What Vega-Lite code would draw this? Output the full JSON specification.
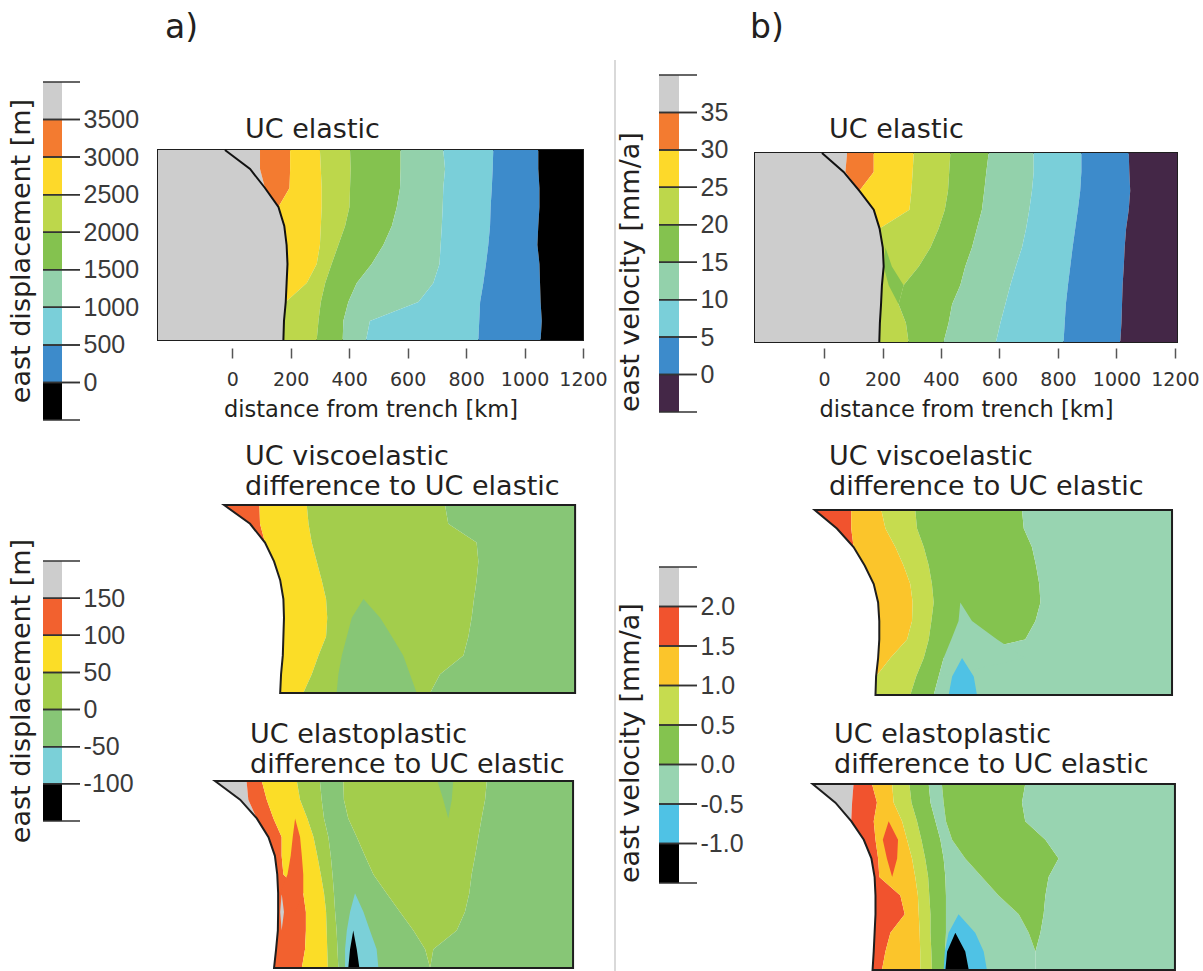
{
"$schema":"https://vega.github.io/schema/vega-lite/v6.json",
"padding":{"left":8,"top":12,"right":0,"bottom":0},
"background":"white",
"config":{"view":{"stroke":null},"legend":{"disable":true},"axis":{"grid":false},
"title":{"font":"DejaVu Sans","fontWeight":"normal","color":"#231f20","fontSize":27,"anchor":"start","frame":"group","lineHeight":30}},
"datasets":{
"A1":[
{"y":100,"c":-25,"g":95,"o":198,"yl":300,"lg":403,"gr":576,"tl":722,"cy":893,"bl":1047},
{"y":90,"c":61,"g":95,"o":198,"yl":303,"lg":405,"gr":576,"tl":728,"cy":891,"bl":1047},
{"y":80,"c":112,"g":112,"o":196,"yl":306,"lg":403,"gr":574,"tl":722,"cy":888,"bl":1051},
{"y":70,"c":158,"g":158,"o":158,"yl":306,"lg":401,"gr":563,"tl":720,"cy":884,"bl":1051},
{"y":60,"c":178,"g":178,"o":178,"yl":303,"lg":386,"gr":546,"tl":717,"cy":882,"bl":1047},
{"y":50,"c":186,"g":186,"o":186,"yl":300,"lg":363,"gr":517,"tl":713,"cy":876,"bl":1044},
{"y":40,"c":189,"g":189,"o":189,"yl":289,"lg":340,"gr":477,"tl":709,"cy":868,"bl":1051},
{"y":30,"c":186,"g":186,"o":186,"yl":255,"lg":318,"gr":426,"tl":688,"cy":859,"bl":1053},
{"y":20,"c":183,"g":183,"o":183,"yl":183,"lg":303,"gr":397,"tl":637,"cy":848,"bl":1055},
{"y":10,"c":177,"g":177,"o":177,"yl":177,"lg":295,"gr":380,"tl":471,"cy":845,"bl":1059},
{"y":0,"c":175,"g":175,"o":175,"yl":175,"lg":289,"gr":378,"tl":458,"cy":842,"bl":1055}
],
"B1":[
{"y":100,"c":-7,"g":79,"o":170,"yl":307,"lg":432,"gr":563,"tl":717,"cy":880,"bl":1042,"a1":210,"a2":210},
{"y":90,"c":67,"g":73,"o":170,"yl":303,"lg":428,"gr":555,"tl":717,"cy":880,"bl":1044,"a1":210,"a2":210},
{"y":80,"c":121,"g":121,"o":121,"yl":299,"lg":424,"gr":548,"tl":711,"cy":876,"bl":1047,"a1":210,"a2":210},
{"y":70,"c":170,"g":170,"o":170,"yl":292,"lg":413,"gr":540,"tl":702,"cy":868,"bl":1042,"a1":210,"a2":210},
{"y":60,"c":190,"g":190,"o":190,"yl":190,"lg":392,"gr":523,"tl":691,"cy":859,"bl":1033,"a1":210,"a2":210},
{"y":50,"c":201,"g":201,"o":201,"yl":201,"lg":364,"gr":506,"tl":677,"cy":850,"bl":1028,"a1":210,"a2":210},
{"y":40,"c":204,"g":204,"o":204,"yl":204,"lg":324,"gr":483,"tl":656,"cy":842,"bl":1025,"a1":204,"a2":232},
{"y":30,"c":198,"g":198,"o":198,"yl":198,"lg":272,"gr":466,"tl":637,"cy":834,"bl":1021,"a1":221,"a2":272},
{"y":20,"c":195,"g":195,"o":195,"yl":195,"lg":255,"gr":438,"tl":620,"cy":827,"bl":1019,"a1":255,"a2":255},
{"y":10,"c":191,"g":191,"o":191,"yl":191,"lg":280,"gr":426,"tl":603,"cy":823,"bl":1017,"a1":280,"a2":280},
{"y":0,"c":189,"g":189,"o":189,"yl":189,"lg":289,"gr":409,"tl":588,"cy":819,"bl":1013,"a1":289,"a2":289}
],
"A2":[
{"y":100,"m":-28,"r":93,"yl":255,"yg":728,"t1":449,"t2":449},
{"y":90,"m":61,"r":95,"yl":261,"yg":739,"t1":449,"t2":449},
{"y":80,"m":112,"r":112,"yl":272,"yg":836,"t1":449,"t2":449},
{"y":70,"m":143,"r":143,"yl":289,"yg":842,"t1":449,"t2":449},
{"y":60,"m":164,"r":164,"yl":306,"yg":836,"t1":449,"t2":449},
{"y":50,"m":175,"r":175,"yl":321,"yg":827,"t1":449,"t2":449},
{"y":40,"m":177,"r":177,"yl":325,"yg":819,"t1":409,"t2":506},
{"y":30,"m":175,"r":175,"yl":321,"yg":808,"t1":392,"t2":546},
{"y":20,"m":173,"r":173,"yl":295,"yg":791,"t1":375,"t2":585},
{"y":10,"m":167,"r":167,"yl":272,"yg":711,"t1":363,"t2":608},
{"y":0,"m":164,"r":164,"yl":243,"yg":677,"t1":357,"t2":631}
],
"A3":[
{"y":100,"m":-59,"g":49,"r":101,"yl":221,"ys":300,"gs":380,"yr":871,"n1":702,"n2":756,"q1":420,"q2":420,"k1":414,"k2":414,"s1":169,"s2":169,"f1":215,"f2":215},
{"y":90,"m":27,"g":55,"r":118,"yl":232,"ys":306,"gs":382,"yr":865,"n1":722,"n2":751,"q1":420,"q2":420,"k1":414,"k2":414,"s1":169,"s2":169,"f1":215,"f2":215},
{"y":80,"m":84,"g":84,"r":141,"yl":257,"ys":314,"gs":397,"yr":853,"n1":739,"n2":739,"q1":420,"q2":420,"k1":414,"k2":414,"s1":169,"s2":169,"f1":215,"f2":215},
{"y":70,"m":124,"g":124,"r":169,"yl":278,"ys":329,"gs":426,"yr":842,"n1":739,"n2":739,"q1":420,"q2":420,"k1":414,"k2":414,"s1":169,"s2":169,"f1":207,"f2":232},
{"y":60,"m":146,"g":146,"r":169,"yl":291,"ys":337,"gs":454,"yr":831,"n1":739,"n2":739,"q1":420,"q2":420,"k1":414,"k2":414,"s1":169,"s2":169,"f1":200,"f2":238},
{"y":50,"m":154,"g":154,"r":175,"yl":303,"ys":343,"gs":483,"yr":819,"n1":739,"n2":739,"q1":420,"q2":420,"k1":414,"k2":414,"s1":169,"s2":169,"f1":189,"f2":243},
{"y":40,"m":157,"g":157,"r":243,"yl":314,"ys":348,"gs":528,"yr":811,"n1":739,"n2":739,"q1":420,"q2":420,"k1":414,"k2":414,"s1":169,"s2":169,"f1":164,"f2":243},
{"y":30,"m":157,"g":157,"r":252,"yl":321,"ys":352,"gs":574,"yr":796,"n1":739,"n2":739,"q1":403,"q2":449,"k1":414,"k2":414,"s1":164,"s2":177,"f1":215,"f2":215},
{"y":20,"m":156,"g":156,"r":252,"yl":323,"ys":357,"gs":620,"yr":768,"n1":739,"n2":739,"q1":392,"q2":471,"k1":414,"k2":414,"s1":169,"s2":169,"f1":215,"f2":215},
{"y":10,"m":150,"g":150,"r":249,"yl":325,"ys":360,"gs":660,"yr":688,"n1":739,"n2":739,"q1":386,"q2":494,"k1":403,"k2":426,"s1":169,"s2":169,"f1":215,"f2":215},
{"y":0,"m":143,"g":143,"r":238,"yl":327,"ys":363,"gs":677,"yr":677,"n1":739,"n2":739,"q1":386,"q2":500,"k1":397,"k2":435,"s1":169,"s2":169,"f1":215,"f2":215}
],
"B2":[
{"y":100,"m":-32,"r":93,"o":196,"lg":312,"gr":677,"q1":466,"q2":466,"u1":472,"u2":472},
{"y":90,"m":44,"r":93,"o":210,"lg":318,"gr":683,"q1":466,"q2":466,"u1":472,"u2":472},
{"y":80,"m":101,"r":101,"o":244,"lg":341,"gr":711,"q1":466,"q2":466,"u1":472,"u2":472},
{"y":70,"m":139,"r":139,"o":272,"lg":358,"gr":725,"q1":466,"q2":466,"u1":472,"u2":472},
{"y":60,"m":170,"r":170,"o":295,"lg":369,"gr":736,"q1":466,"q2":466,"u1":472,"u2":472},
{"y":50,"m":185,"r":185,"o":303,"lg":375,"gr":740,"q1":466,"q2":466,"u1":472,"u2":472},
{"y":40,"m":189,"r":189,"o":301,"lg":367,"gr":723,"q1":460,"q2":506,"u1":472,"u2":472},
{"y":30,"m":189,"r":189,"o":284,"lg":358,"gr":688,"q1":435,"q2":592,"u1":472,"u2":472},
{"y":20,"m":185,"r":185,"o":227,"lg":341,"gr":409,"q1":409,"q2":688,"u1":472,"u2":472},
{"y":10,"m":178,"r":178,"o":178,"lg":315,"gr":392,"q1":403,"q2":403,"u1":438,"u2":512},
{"y":0,"m":176,"r":176,"o":176,"lg":295,"gr":375,"q1":403,"q2":403,"u1":426,"u2":523}
],
"B3":[
{"y":100,"m":-39,"g":101,"r":164,"o":233,"lg":292,"gs":358,"ts":403,"bg":688,"p1":233,"p2":233,"u1":460,"u2":460,"k1":449,"k2":449},
{"y":90,"m":39,"g":96,"r":181,"o":238,"lg":299,"gs":364,"ts":409,"bg":677,"p1":233,"p2":233,"u1":460,"u2":460,"k1":449,"k2":449},
{"y":80,"m":93,"g":93,"r":170,"o":267,"lg":318,"gs":381,"ts":417,"bg":688,"p1":221,"p2":221,"u1":460,"u2":460,"k1":449,"k2":449},
{"y":70,"m":136,"g":136,"r":176,"o":284,"lg":333,"gs":398,"ts":438,"bg":757,"p1":201,"p2":253,"u1":460,"u2":460,"k1":449,"k2":449},
{"y":60,"m":162,"g":162,"r":185,"o":301,"lg":346,"gs":409,"ts":483,"bg":802,"p1":215,"p2":250,"u1":460,"u2":460,"k1":449,"k2":449},
{"y":50,"m":173,"g":173,"r":189,"o":312,"lg":356,"gs":415,"ts":540,"bg":768,"p1":233,"p2":233,"u1":460,"u2":460,"k1":449,"k2":449},
{"y":40,"m":176,"g":176,"r":261,"o":321,"lg":360,"gs":417,"ts":597,"bg":757,"p1":233,"p2":233,"u1":460,"u2":460,"k1":449,"k2":449},
{"y":30,"m":176,"g":176,"r":276,"o":324,"lg":364,"gs":417,"ts":666,"bg":751,"p1":233,"p2":233,"u1":460,"u2":460,"k1":449,"k2":449},
{"y":20,"m":173,"g":173,"r":227,"o":327,"lg":364,"gs":417,"ts":700,"bg":740,"p1":233,"p2":233,"u1":426,"u2":517,"k1":449,"k2":449},
{"y":10,"m":170,"g":170,"r":210,"o":329,"lg":367,"gs":415,"ts":723,"bg":723,"p1":233,"p2":233,"u1":413,"u2":546,"k1":421,"k2":483},
{"y":0,"m":166,"g":166,"r":198,"o":329,"lg":369,"gs":413,"ts":723,"bg":723,"p1":233,"p2":233,"u1":409,"u2":557,"k1":415,"k2":495}
]
},
"bounds":"full","spacing":5,
"hconcat":[
{"bounds":"full","spacing":18,"hconcat":[
{"bounds":"flush","spacing":0,"vconcat":[
{"width":1,"height":22,"data":{"values":[]},"mark":"point"},
{"width":37,"height":338,
"title":{"text":"east displacement [m]","orient":"left","anchor":"middle","offset":6},
"data":{"values":[{"b":"a0","lo":-500,"hi":0},{"b":"a1","lo":0,"hi":500},{"b":"a2","lo":500,"hi":1000},{"b":"a3","lo":1000,"hi":1500},{"b":"a4","lo":1500,"hi":2000},{"b":"a5","lo":2000,"hi":2500},{"b":"a6","lo":2500,"hi":3000},{"b":"a7","lo":3000,"hi":3500},{"b":"a8","lo":3500,"hi":4000}]},
"layer":[
{"mark":"rect","encoding":{"x":{"datum":0,"type":"quantitative","scale":{"domain":[0,1]},"axis":null},"x2":{"datum":0.514},
"y":{"field":"lo","type":"quantitative","scale":{"domain":[-500,4000],"nice":false},"axis":{"orient":"right","values":[0,500,1000,1500,2000,2500,3000,3500],"format":"d","ticks":false,"domain":false,"labelFont":"Liberation Sans","labelFontSize":25,"labelColor":"#3a3a3a","labelPadding":3,"title":null}},
"y2":{"field":"hi"},
"color":{"field":"b","type":"nominal","scale":{"domain":["a0","a1","a2","a3","a4","a5","a6","a7","a8","b0","b1","b2","b3","b4","b5","b6","b7","b8","c0","c1","c2","c3","c4","c5","c6","d0","d1","d2","d3","d4","d5","d6","d7"],"range":["#000000","#3d8bcb","#7acfd9","#93d1ab","#84c24f","#bdd74b","#fdd92a","#f37b30","#cdcdcd","#442747","#3d8bcb","#7acfd9","#93d1ab","#84c24f","#bdd74b","#fdd92a","#f37b30","#cdcdcd","#000000","#7bd0d8","#87c676","#a3cd4c","#fbdd27","#f2612f","#cdcdcd","#000000","#4fc2e5","#98d4b1","#84c34f","#c6dc4f","#fbc52b","#f1532e","#cdcdcd"]}}}},
{"mark":{"type":"rule","color":"#333","strokeWidth":1.5},"encoding":{"y":{"field":"lo","type":"quantitative"}}},
{"mark":{"type":"rule","color":"#333","strokeWidth":1.5},"encoding":{"y":{"field":"hi","type":"quantitative"}}}
]},
{"width":1,"height":141,"data":{"values":[]},"mark":"point"},
{"width":37,"height":260,
"title":{"text":"east displacement [m]","orient":"left","anchor":"middle","offset":6},
"data":{"values":[{"b":"c0","lo":-150,"hi":-100},{"b":"c1","lo":-100,"hi":-50},{"b":"c2","lo":-50,"hi":0},{"b":"c3","lo":0,"hi":50},{"b":"c4","lo":50,"hi":100},{"b":"c5","lo":100,"hi":150},{"b":"c6","lo":150,"hi":200}]},
"layer":[
{"mark":"rect","encoding":{"x":{"datum":0,"type":"quantitative","scale":{"domain":[0,1]},"axis":null},"x2":{"datum":0.514},
"y":{"field":"lo","type":"quantitative","scale":{"domain":[-150,200],"nice":false},"axis":{"orient":"right","values":[-100,-50,0,50,100,150],"labelExpr":"datum.value < 0 ? '-' + (-datum.value) : '' + datum.value","ticks":false,"domain":false,"labelFont":"Liberation Sans","labelFontSize":25,"labelColor":"#3a3a3a","labelPadding":3,"title":null}},
"y2":{"field":"hi"},
"color":{"field":"b","type":"nominal","scale":{"domain":["a0","a1","a2","a3","a4","a5","a6","a7","a8","b0","b1","b2","b3","b4","b5","b6","b7","b8","c0","c1","c2","c3","c4","c5","c6","d0","d1","d2","d3","d4","d5","d6","d7"],"range":["#000000","#3d8bcb","#7acfd9","#93d1ab","#84c24f","#bdd74b","#fdd92a","#f37b30","#cdcdcd","#442747","#3d8bcb","#7acfd9","#93d1ab","#84c24f","#bdd74b","#fdd92a","#f37b30","#cdcdcd","#000000","#7bd0d8","#87c676","#a3cd4c","#fbdd27","#f2612f","#cdcdcd","#000000","#4fc2e5","#98d4b1","#84c34f","#c6dc4f","#fbc52b","#f1532e","#cdcdcd"]}}}},
{"mark":{"type":"rule","color":"#333","strokeWidth":1.5},"encoding":{"y":{"field":"lo","type":"quantitative"}}},
{"mark":{"type":"rule","color":"#333","strokeWidth":1.5},"encoding":{"y":{"field":"hi","type":"quantitative"}}}
]}
]},
{"bounds":"flush","spacing":0,"vconcat":[
{"width":1,"height":90,"data":{"values":[]},"mark":"point","title":{"text":"a)","fontSize":33,"dx":7,"offset":15}},
{"width":425,"height":190,"view":{"stroke":"#1e1e1e","strokeWidth":2},
"title":{"text":"UC elastic","dx":87,"offset":2},
"data":{"name":"A1"},
"encoding":{"y":{"field":"y","type":"quantitative","scale":{"domain":[0,100],"nice":false},"axis":null}},
"layer":[
{"mark":{"type":"area","orient":"horizontal"},"encoding":{"x":{"field":"g","type":"quantitative","scale":{"domain":[-254,1200],"nice":false},
"axis":{"values":[0,100,200,300,400,500,600,700,800,900,1000,1100,1200],"format":"d","labelExpr":"datum.value % 200 === 0 ? datum.label : ''","tickSize":{"condition":{"test":"datum.value % 200 === 0","value":10},"value":5},"offset":8,"domain":false,"labelFlush":false,"labelOverlap":false,"tickColor":"#555","tickWidth":1.5,"labelFont":"DejaVu Sans","labelFontSize":19,"labelColor":"#333","labelPadding":12,"title":"distance from trench [km]","titleFont":"DejaVu Sans","titleFontSize":22.5,"titleFontWeight":"normal","titleColor":"#231f20","titlePadding":9}},
"x2":{"datum":-254},"color":{"datum":"a8"}}},
{"mark":{"type":"area","orient":"horizontal"},"encoding":{"x":{"field":"o","type":"quantitative"},"x2":{"field":"g"},"color":{"datum":"a7"}}},
{"mark":{"type":"area","orient":"horizontal"},"encoding":{"x":{"field":"yl","type":"quantitative"},"x2":{"field":"o"},"color":{"datum":"a6"}}},
{"mark":{"type":"area","orient":"horizontal"},"encoding":{"x":{"field":"lg","type":"quantitative"},"x2":{"field":"yl"},"color":{"datum":"a5"}}},
{"mark":{"type":"area","orient":"horizontal"},"encoding":{"x":{"field":"gr","type":"quantitative"},"x2":{"field":"lg"},"color":{"datum":"a4"}}},
{"mark":{"type":"area","orient":"horizontal"},"encoding":{"x":{"field":"tl","type":"quantitative"},"x2":{"field":"gr"},"color":{"datum":"a3"}}},
{"mark":{"type":"area","orient":"horizontal"},"encoding":{"x":{"field":"cy","type":"quantitative"},"x2":{"field":"tl"},"color":{"datum":"a2"}}},
{"mark":{"type":"area","orient":"horizontal"},"encoding":{"x":{"field":"bl","type":"quantitative"},"x2":{"field":"cy"},"color":{"datum":"a1"}}},
{"mark":{"type":"area","orient":"horizontal"},"encoding":{"x":{"field":"bl","type":"quantitative"},"x2":{"datum":1200},"color":{"datum":"a0"}}},
{"mark":{"type":"line","color":"#111","strokeWidth":2},"encoding":{"x":{"field":"c","type":"quantitative"},"order":{"field":"y","type":"quantitative"}}},
{"data":{"values":[{}]},"mark":{"type":"rule","color":"#555","strokeWidth":1.5},"encoding":{"x":{"datum":0},"x2":{"datum":1200},"y":{"datum":-4.2}}}
]},
{"width":1,"height":165,"data":{"values":[]},"mark":"point"},
{"width":425,"height":188,
"title":{"text":["UC viscoelastic","difference to UC elastic"],"dx":87,"offset":0},
"data":{"name":"A2"},
"encoding":{"y":{"field":"y","type":"quantitative","scale":{"domain":[0,100],"nice":false},"axis":null}},
"layer":[
{"mark":{"type":"area","orient":"horizontal"},"encoding":{"x":{"field":"r","type":"quantitative","scale":{"domain":[-254,1200],"nice":false},"axis":null},"x2":{"field":"m"},"color":{"datum":"c5"}}},
{"mark":{"type":"area","orient":"horizontal"},"encoding":{"x":{"field":"yl","type":"quantitative","axis":null},"x2":{"field":"r"},"color":{"datum":"c4"}}},
{"mark":{"type":"area","orient":"horizontal"},"encoding":{"x":{"field":"yg","type":"quantitative","axis":null},"x2":{"field":"yl"},"color":{"datum":"c3"}}},
{"mark":{"type":"area","orient":"horizontal"},"encoding":{"x":{"field":"yg","type":"quantitative","axis":null},"x2":{"datum":1173},"color":{"datum":"c2"}}},
{"mark":{"type":"area","orient":"horizontal"},"encoding":{"x":{"field":"t1","type":"quantitative","axis":null},"x2":{"field":"t2"},"color":{"datum":"c2"}}},
{"mark":{"type":"area","orient":"horizontal","fillOpacity":0,"stroke":"#1e1e1e","strokeWidth":2},"encoding":{"x":{"field":"m","type":"quantitative","axis":null},"x2":{"datum":1173}}}
]},
{"width":1,"height":88,"data":{"values":[]},"mark":"point"},
{"width":425,"height":187,
"title":{"text":["UC elastoplastic","difference to UC elastic"],"dx":92,"offset":-2},
"data":{"name":"A3"},
"encoding":{"y":{"field":"y","type":"quantitative","scale":{"domain":[0,100],"nice":false},"axis":null}},
"layer":[
{"mark":{"type":"area","orient":"horizontal"},"encoding":{"x":{"field":"g","type":"quantitative","scale":{"domain":[-254,1200],"nice":false},"axis":null},"x2":{"field":"m"},"color":{"datum":"c6"}}},
{"mark":{"type":"area","orient":"horizontal"},"encoding":{"x":{"field":"r","type":"quantitative","axis":null},"x2":{"field":"g"},"color":{"datum":"c5"}}},
{"mark":{"type":"area","orient":"horizontal"},"encoding":{"x":{"field":"yl","type":"quantitative","axis":null},"x2":{"field":"r"},"color":{"datum":"c4"}}},
{"mark":{"type":"area","orient":"horizontal"},"encoding":{"x":{"field":"ys","type":"quantitative","axis":null},"x2":{"field":"yl"},"color":{"datum":"c3"}}},
{"mark":{"type":"area","orient":"horizontal"},"encoding":{"x":{"field":"gs","type":"quantitative","axis":null},"x2":{"field":"ys"},"color":{"datum":"c2"}}},
{"mark":{"type":"area","orient":"horizontal"},"encoding":{"x":{"field":"yr","type":"quantitative","axis":null},"x2":{"field":"gs"},"color":{"datum":"c3"}}},
{"mark":{"type":"area","orient":"horizontal"},"encoding":{"x":{"field":"yr","type":"quantitative","axis":null},"x2":{"datum":1166},"color":{"datum":"c2"}}},
{"mark":{"type":"area","orient":"horizontal"},"encoding":{"x":{"field":"n1","type":"quantitative","axis":null},"x2":{"field":"n2"},"color":{"datum":"c2"}}},
{"mark":{"type":"area","orient":"horizontal"},"encoding":{"x":{"field":"q1","type":"quantitative","axis":null},"x2":{"field":"q2"},"color":{"datum":"c1"}}},
{"mark":{"type":"area","orient":"horizontal"},"encoding":{"x":{"field":"k1","type":"quantitative","axis":null},"x2":{"field":"k2"},"color":{"datum":"c0"}}},
{"mark":{"type":"area","orient":"horizontal"},"encoding":{"x":{"field":"s1","type":"quantitative","axis":null},"x2":{"field":"s2"},"color":{"datum":"c6"}}},
{"mark":{"type":"area","orient":"horizontal"},"encoding":{"x":{"field":"f1","type":"quantitative","axis":null},"x2":{"field":"f2"},"color":{"datum":"c5"}}},
{"mark":{"type":"area","orient":"horizontal","fillOpacity":0,"stroke":"#1e1e1e","strokeWidth":2},"encoding":{"x":{"field":"m","type":"quantitative","axis":null},"x2":{"datum":1166}}}
]}
]}
]},
{"bounds":"full","spacing":6,"hconcat":[
{"bounds":"flush","spacing":0,"vconcat":[
{"width":1,"height":15,"data":{"values":[{}]},"mark":{"type":"rule","color":"#b3b3b3","strokeWidth":1},"encoding":{"x":{"datum":-44,"type":"quantitative","scale":{"domain":[0,1]},"axis":null},"y":{"datum":1,"type":"quantitative","scale":{"domain":[0,1]},"axis":null},"y2":{"datum":-59.73}}},
{"width":38,"height":337,
"title":{"text":"east velocity [mm/a]","orient":"left","anchor":"start","offset":13},
"data":{"values":[{"b":"b0","lo":-5,"hi":0},{"b":"b1","lo":0,"hi":5},{"b":"b2","lo":5,"hi":10},{"b":"b3","lo":10,"hi":15},{"b":"b4","lo":15,"hi":20},{"b":"b5","lo":20,"hi":25},{"b":"b6","lo":25,"hi":30},{"b":"b7","lo":30,"hi":35},{"b":"b8","lo":35,"hi":40}]},
"layer":[
{"mark":"rect","encoding":{"x":{"datum":0,"type":"quantitative","scale":{"domain":[0,1]},"axis":null},"x2":{"datum":0.526},
"y":{"field":"lo","type":"quantitative","scale":{"domain":[-5,40],"nice":false},"axis":{"orient":"right","values":[0,5,10,15,20,25,30,35],"format":"d","ticks":false,"domain":false,"labelFont":"Liberation Sans","labelFontSize":25,"labelColor":"#3a3a3a","labelPadding":3,"title":null}},
"y2":{"field":"hi"},
"color":{"field":"b","type":"nominal","scale":{"domain":["a0","a1","a2","a3","a4","a5","a6","a7","a8","b0","b1","b2","b3","b4","b5","b6","b7","b8","c0","c1","c2","c3","c4","c5","c6","d0","d1","d2","d3","d4","d5","d6","d7"],"range":["#000000","#3d8bcb","#7acfd9","#93d1ab","#84c24f","#bdd74b","#fdd92a","#f37b30","#cdcdcd","#442747","#3d8bcb","#7acfd9","#93d1ab","#84c24f","#bdd74b","#fdd92a","#f37b30","#cdcdcd","#000000","#7bd0d8","#87c676","#a3cd4c","#fbdd27","#f2612f","#cdcdcd","#000000","#4fc2e5","#98d4b1","#84c34f","#c6dc4f","#fbc52b","#f1532e","#cdcdcd"]}}}},
{"mark":{"type":"rule","color":"#333","strokeWidth":1.5},"encoding":{"y":{"field":"lo","type":"quantitative"}}},
{"mark":{"type":"rule","color":"#333","strokeWidth":1.5},"encoding":{"y":{"field":"hi","type":"quantitative"}}}
]},
{"width":1,"height":155,"data":{"values":[]},"mark":"point"},
{"width":38,"height":316,
"title":{"text":"east velocity [mm/a]","orient":"left","anchor":"start","offset":13},
"data":{"values":[{"b":"d0","lo":-1.5,"hi":-1},{"b":"d1","lo":-1,"hi":-0.5},{"b":"d2","lo":-0.5,"hi":0},{"b":"d3","lo":0,"hi":0.5},{"b":"d4","lo":0.5,"hi":1},{"b":"d5","lo":1,"hi":1.5},{"b":"d6","lo":1.5,"hi":2},{"b":"d7","lo":2,"hi":2.5}]},
"layer":[
{"mark":"rect","encoding":{"x":{"datum":0,"type":"quantitative","scale":{"domain":[0,1]},"axis":null},"x2":{"datum":0.526},
"y":{"field":"lo","type":"quantitative","scale":{"domain":[-1.5,2.5],"nice":false},"axis":{"orient":"right","values":[-1,-0.5,0,0.5,1,1.5,2],"labelExpr":"datum.value < 0 ? '-' + format(-datum.value, '.1f') : format(datum.value, '.1f')","ticks":false,"domain":false,"labelFont":"Liberation Sans","labelFontSize":25,"labelColor":"#3a3a3a","labelPadding":3,"title":null}},
"y2":{"field":"hi"},
"color":{"field":"b","type":"nominal","scale":{"domain":["a0","a1","a2","a3","a4","a5","a6","a7","a8","b0","b1","b2","b3","b4","b5","b6","b7","b8","c0","c1","c2","c3","c4","c5","c6","d0","d1","d2","d3","d4","d5","d6","d7"],"range":["#000000","#3d8bcb","#7acfd9","#93d1ab","#84c24f","#bdd74b","#fdd92a","#f37b30","#cdcdcd","#442747","#3d8bcb","#7acfd9","#93d1ab","#84c24f","#bdd74b","#fdd92a","#f37b30","#cdcdcd","#000000","#7bd0d8","#87c676","#a3cd4c","#fbdd27","#f2612f","#cdcdcd","#000000","#4fc2e5","#98d4b1","#84c34f","#c6dc4f","#fbc52b","#f1532e","#cdcdcd"]}}}},
{"mark":{"type":"rule","color":"#333","strokeWidth":1.5},"encoding":{"y":{"field":"lo","type":"quantitative"}}},
{"mark":{"type":"rule","color":"#333","strokeWidth":1.5},"encoding":{"y":{"field":"hi","type":"quantitative"}}}
]}
]},
{"bounds":"flush","spacing":0,"vconcat":[
{"width":1,"height":93,"data":{"values":[]},"mark":"point","title":{"text":"b)","fontSize":33,"dx":-5,"offset":15}},
{"width":422,"height":189,"view":{"stroke":"#1e1e1e","strokeWidth":2},
"title":{"text":"UC elastic","dx":74,"offset":5},
"data":{"name":"B1"},
"encoding":{"y":{"field":"y","type":"quantitative","scale":{"domain":[0,100],"nice":false},"axis":null}},
"layer":[
{"mark":{"type":"area","orient":"horizontal"},"encoding":{"x":{"field":"g","type":"quantitative","scale":{"domain":[-236,1207],"nice":false},
"axis":{"values":[0,100,200,300,400,500,600,700,800,900,1000,1100,1200],"format":"d","labelExpr":"datum.value % 200 === 0 ? datum.label : ''","tickSize":{"condition":{"test":"datum.value % 200 === 0","value":10},"value":5},"offset":6,"domain":false,"labelFlush":false,"labelOverlap":false,"tickColor":"#555","tickWidth":1.5,"labelFont":"DejaVu Sans","labelFontSize":19,"labelColor":"#333","labelPadding":12,"title":"distance from trench [km]","titleFont":"DejaVu Sans","titleFontSize":22.5,"titleFontWeight":"normal","titleColor":"#231f20","titlePadding":9}},
"x2":{"datum":-236},"color":{"datum":"b8"}}},
{"mark":{"type":"area","orient":"horizontal"},"encoding":{"x":{"field":"o","type":"quantitative"},"x2":{"field":"g"},"color":{"datum":"b7"}}},
{"mark":{"type":"area","orient":"horizontal"},"encoding":{"x":{"field":"yl","type":"quantitative"},"x2":{"field":"o"},"color":{"datum":"b6"}}},
{"mark":{"type":"area","orient":"horizontal"},"encoding":{"x":{"field":"lg","type":"quantitative"},"x2":{"field":"yl"},"color":{"datum":"b5"}}},
{"mark":{"type":"area","orient":"horizontal"},"encoding":{"x":{"field":"gr","type":"quantitative"},"x2":{"field":"lg"},"color":{"datum":"b4"}}},
{"mark":{"type":"area","orient":"horizontal"},"encoding":{"x":{"field":"tl","type":"quantitative"},"x2":{"field":"gr"},"color":{"datum":"b3"}}},
{"mark":{"type":"area","orient":"horizontal"},"encoding":{"x":{"field":"cy","type":"quantitative"},"x2":{"field":"tl"},"color":{"datum":"b2"}}},
{"mark":{"type":"area","orient":"horizontal"},"encoding":{"x":{"field":"bl","type":"quantitative"},"x2":{"field":"cy"},"color":{"datum":"b1"}}},
{"mark":{"type":"area","orient":"horizontal"},"encoding":{"x":{"field":"bl","type":"quantitative"},"x2":{"datum":1207},"color":{"datum":"b0"}}},
{"mark":{"type":"area","orient":"horizontal"},"encoding":{"x":{"field":"a1","type":"quantitative"},"x2":{"field":"a2"},"color":{"datum":"b4"}}},
{"mark":{"type":"line","color":"#111","strokeWidth":2},"encoding":{"x":{"field":"c","type":"quantitative"},"order":{"field":"y","type":"quantitative"}}},
{"data":{"values":[{}]},"mark":{"type":"rule","color":"#111","strokeWidth":4},"encoding":{"x":{"datum":-236},"y":{"datum":0},"y2":{"datum":63}}},
{"data":{"values":[{}]},"mark":{"type":"rule","color":"#555","strokeWidth":1.5},"encoding":{"x":{"datum":0},"x2":{"datum":1200},"y":{"datum":-3.2}}}
]},
{"width":1,"height":168,"data":{"values":[]},"mark":"point"},
{"width":422,"height":185,
"title":{"text":["UC viscoelastic","difference to UC elastic"],"dx":74,"offset":5},
"data":{"name":"B2"},
"encoding":{"y":{"field":"y","type":"quantitative","scale":{"domain":[0,100],"nice":false},"axis":null}},
"layer":[
{"mark":{"type":"area","orient":"horizontal"},"encoding":{"x":{"field":"r","type":"quantitative","scale":{"domain":[-236,1207],"nice":false},"axis":null},"x2":{"field":"m"},"color":{"datum":"d6"}}},
{"mark":{"type":"area","orient":"horizontal"},"encoding":{"x":{"field":"o","type":"quantitative","axis":null},"x2":{"field":"r"},"color":{"datum":"d5"}}},
{"mark":{"type":"area","orient":"horizontal"},"encoding":{"x":{"field":"lg","type":"quantitative","axis":null},"x2":{"field":"o"},"color":{"datum":"d4"}}},
{"mark":{"type":"area","orient":"horizontal"},"encoding":{"x":{"field":"gr","type":"quantitative","axis":null},"x2":{"field":"lg"},"color":{"datum":"d3"}}},
{"mark":{"type":"area","orient":"horizontal"},"encoding":{"x":{"field":"gr","type":"quantitative","axis":null},"x2":{"datum":1190},"color":{"datum":"d2"}}},
{"mark":{"type":"area","orient":"horizontal"},"encoding":{"x":{"field":"q1","type":"quantitative","axis":null},"x2":{"field":"q2"},"color":{"datum":"d2"}}},
{"mark":{"type":"area","orient":"horizontal"},"encoding":{"x":{"field":"u1","type":"quantitative","axis":null},"x2":{"field":"u2"},"color":{"datum":"d1"}}},
{"mark":{"type":"area","orient":"horizontal","fillOpacity":0,"stroke":"#1e1e1e","strokeWidth":2},"encoding":{"x":{"field":"m","type":"quantitative","axis":null},"x2":{"datum":1190}}}
]},
{"width":1,"height":89,"data":{"values":[]},"mark":"point"},
{"width":422,"height":186,
"title":{"text":["UC elastoplastic","difference to UC elastic"],"dx":79,"offset":1},
"data":{"name":"B3"},
"encoding":{"y":{"field":"y","type":"quantitative","scale":{"domain":[0,100],"nice":false},"axis":null}},
"layer":[
{"mark":{"type":"area","orient":"horizontal"},"encoding":{"x":{"field":"g","type":"quantitative","scale":{"domain":[-236,1207],"nice":false},"axis":null},"x2":{"field":"m"},"color":{"datum":"d7"}}},
{"mark":{"type":"area","orient":"horizontal"},"encoding":{"x":{"field":"r","type":"quantitative","axis":null},"x2":{"field":"g"},"color":{"datum":"d6"}}},
{"mark":{"type":"area","orient":"horizontal"},"encoding":{"x":{"field":"o","type":"quantitative","axis":null},"x2":{"field":"r"},"color":{"datum":"d5"}}},
{"mark":{"type":"area","orient":"horizontal"},"encoding":{"x":{"field":"lg","type":"quantitative","axis":null},"x2":{"field":"o"},"color":{"datum":"d4"}}},
{"mark":{"type":"area","orient":"horizontal"},"encoding":{"x":{"field":"gs","type":"quantitative","axis":null},"x2":{"field":"lg"},"color":{"datum":"d3"}}},
{"mark":{"type":"area","orient":"horizontal"},"encoding":{"x":{"field":"ts","type":"quantitative","axis":null},"x2":{"field":"gs"},"color":{"datum":"d2"}}},
{"mark":{"type":"area","orient":"horizontal"},"encoding":{"x":{"field":"bg","type":"quantitative","axis":null},"x2":{"field":"ts"},"color":{"datum":"d3"}}},
{"mark":{"type":"area","orient":"horizontal"},"encoding":{"x":{"field":"bg","type":"quantitative","axis":null},"x2":{"datum":1200},"color":{"datum":"d2"}}},
{"mark":{"type":"area","orient":"horizontal"},"encoding":{"x":{"field":"p1","type":"quantitative","axis":null},"x2":{"field":"p2"},"color":{"datum":"d6"}}},
{"mark":{"type":"area","orient":"horizontal"},"encoding":{"x":{"field":"u1","type":"quantitative","axis":null},"x2":{"field":"u2"},"color":{"datum":"d1"}}},
{"mark":{"type":"area","orient":"horizontal"},"encoding":{"x":{"field":"k1","type":"quantitative","axis":null},"x2":{"field":"k2"},"color":{"datum":"d0"}}},
{"mark":{"type":"area","orient":"horizontal","fillOpacity":0,"stroke":"#1e1e1e","strokeWidth":2},"encoding":{"x":{"field":"m","type":"quantitative","axis":null},"x2":{"datum":1200}}}
]}
]}
]}
]
}
